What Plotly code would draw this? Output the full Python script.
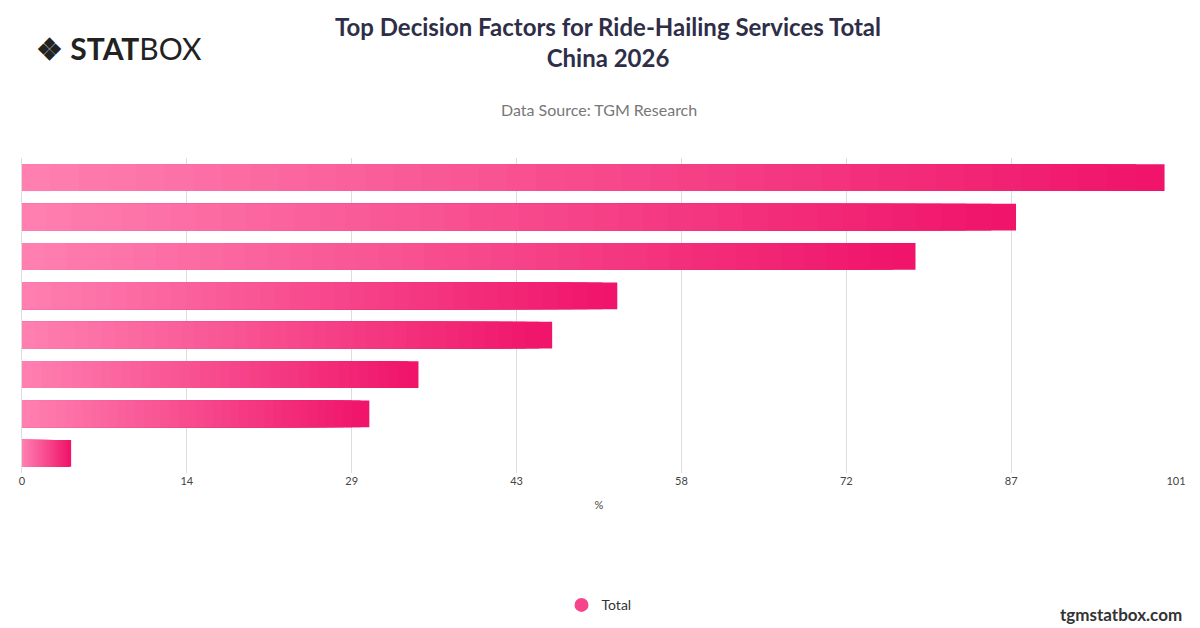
import plotly.graph_objects as go

categories = ["F1", "F2", "F3", "F4", "F5", "F6", "F7", "F8"]
values = [100.0, 87.0, 78.2, 52.1, 46.4, 34.7, 30.4, 4.3]
tick_vals = [0, 101/7, 202/7, 303/7, 404/7, 505/7, 606/7, 101]
tick_text = ["0", "14", "29", "43", "58", "72", "87", "101"]

light = (255, 130, 178)
dark = (240, 20, 106)
N = 40
fig = go.Figure()
for k in range(N, 0, -1):
    f = k / N
    c = tuple(int(light[i] + (dark[i] - light[i]) * f) for i in range(3))
    fig.add_trace(go.Bar(
        y=categories, x=[v * f for v in values], orientation="h",
        marker=dict(color="rgb(%d,%d,%d)" % c, line=dict(width=0)),
        showlegend=False, hoverinfo="skip"))
fig.add_trace(go.Scatter(x=[None], y=[None], mode="markers", name="Total",
                         marker=dict(symbol="circle", size=14, color="rgb(245,70,140)")))

fig.update_layout(
    width=1200, height=628, barmode="overlay", bargap=0.32,
    paper_bgcolor="white", plot_bgcolor="white",
    margin=dict(l=14, r=32, t=150, b=163),
    font=dict(family="Lato, Open Sans, sans-serif", color="#555"),
    title=dict(text="<b>Top Decision Factors for Ride-Hailing Services Total<br>China 2026</b>",
               x=0.5, xanchor="center", y=0.955, yanchor="top",
               font=dict(size=24, color="#2e2e48")),
    xaxis=dict(range=[0, 101], tickvals=tick_vals, ticktext=tick_text,
               showgrid=True, gridcolor="#dddddd", zeroline=False,
               tickfont=dict(size=11, color="#444"),
               title=dict(text="%", font=dict(size=11, color="#444"))),
    yaxis=dict(autorange="reversed", showticklabels=False, showgrid=False,
               showline=True, linecolor="#dddddd"),
    legend=dict(orientation="h", x=0.5, xanchor="center", y=-0.42, yanchor="middle",
                font=dict(size=14, color="#333")),
    annotations=[
        dict(text="Data Source: TGM Research", x=0.5, xref="paper", y=101, yref="paper",
             showarrow=False, font=dict(size=16, color="#777")),
        dict(text="<b>❖ STAT</b>BOX", xref="paper", yref="paper", x=-0.0, y=1.0,
             showarrow=False, font=dict(size=30, color="#222")),
        dict(text="<b>tgmstatbox.com</b>", xref="paper", yref="paper", x=1.0, y=0, showarrow=False,
             font=dict(size=17, color="#333")),
    ],
)
# place annotations in pixel-like positions via paper coords
ann = list(fig.layout.annotations)
ph = 628 - 150 - 163
def py(p):
    return (628 - 163 - p) / ph
pw = 1200 - 14 - 32
def px(p):
    return (p - 14) / pw
ann[0].update(x=0.5, y=py(101), xanchor="center", yanchor="middle")
ann[1].update(x=px(26), y=py(40), xanchor="left", yanchor="middle")
ann[2].update(x=px(1176), y=py(606), xanchor="right", yanchor="middle")
fig.layout.annotations = ann
fig.write_html("out.html")
